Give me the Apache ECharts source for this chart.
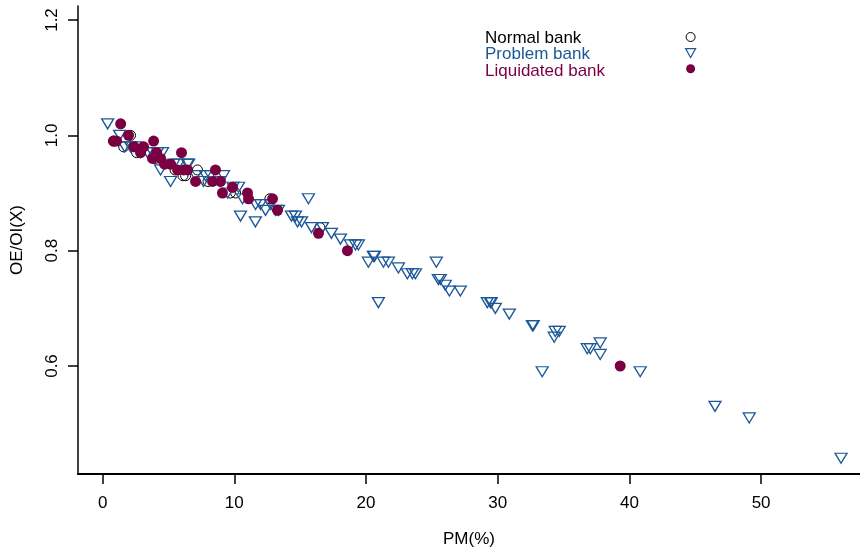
<!DOCTYPE html>
<html lang="en">
<head>
  <meta charset="UTF-8">
  <title>OE/OI vs PM</title>
  <script src="https://cdn.jsdelivr.net/npm/echarts@6/dist/echarts.min.js"></script>
  <style>
    html, body { margin: 0; padding: 0; background: #fff; }
  </style>
</head>
<body>
<div id="chart" style="width: 860px;height: 554px;"></div>

<script>
  // [PM(%), OE/OI(X)]
  const normalBank = [
    [0.83, 0.99], [1.6, 0.98], [2.12, 1.00], [2.58, 0.97], [4.0, 0.96], [5.5, 0.94],
    [6.1, 0.93], [6.3, 0.93], [7.2, 0.94], [8.0, 0.92], [9.7, 0.90], [10.1, 0.90],
    [12.7, 0.89], [16.5, 0.84]
  ];
  const problemBank = [
    [0.38, 1.02], [1.29, 1.00], [1.67, 0.98], [2.12, 0.98], [2.5, 0.98], [2.88, 0.97],
    [3.41, 0.97], [3.79, 0.97], [4.17, 0.97], [4.55, 0.97], [4.4, 0.94], [5.16, 0.92],
    [5.4, 0.95], [5.77, 0.95], [6.45, 0.95], [6.53, 0.95], [7.06, 0.93], [7.81, 0.93],
    [8.19, 0.93], [8.9, 0.92], [9.18, 0.93], [7.66, 0.92], [9.48, 0.90], [9.9, 0.91],
    [10.32, 0.91], [10.62, 0.89], [10.47, 0.86], [11.61, 0.88], [11.99, 0.88], [12.37, 0.87],
    [12.75, 0.88], [11.6, 0.85], [13.13, 0.87], [13.35, 0.87], [14.34, 0.86], [14.64, 0.86],
    [14.8, 0.85], [15.1, 0.85], [15.63, 0.89], [15.86, 0.84], [16.69, 0.84], [17.37, 0.83],
    [18.06, 0.82], [18.82, 0.81], [19.2, 0.81], [19.42, 0.81], [20.18, 0.78], [20.56, 0.79],
    [20.64, 0.79], [20.94, 0.71], [21.32, 0.78], [21.7, 0.78], [22.46, 0.77], [23.14, 0.76],
    [23.52, 0.76], [23.75, 0.76], [25.34, 0.78], [25.49, 0.75], [25.64, 0.75], [26.02, 0.74],
    [26.33, 0.73], [27.16, 0.73], [29.21, 0.71], [29.44, 0.71], [29.51, 0.71], [29.82, 0.70],
    [30.88, 0.69], [32.63, 0.67], [32.7, 0.67], [33.38, 0.59], [34.37, 0.66], [34.67, 0.66],
    [34.29, 0.65], [36.8, 0.63], [37.03, 0.63], [37.78, 0.64], [37.78, 0.62], [40.82, 0.59],
    [46.5, 0.53], [49.1, 0.51], [56.07, 0.44]
  ];
  const liquidatedBank = [
    [1.37, 1.02], [0.83, 0.99], [1.06, 0.99], [1.97, 1.00], [2.4, 0.98], [3.11, 0.98],
    [2.88, 0.97], [3.87, 0.99], [3.79, 0.96], [4.4, 0.96], [4.1, 0.97], [5.16, 0.95],
    [4.7, 0.95], [5.99, 0.97], [5.69, 0.94], [6.45, 0.94], [6.15, 0.94], [7.06, 0.92],
    [8.57, 0.94], [8.35, 0.92], [8.95, 0.92], [9.10, 0.90], [9.86, 0.91], [11.0, 0.90],
    [11.08, 0.89], [12.9, 0.89], [13.28, 0.87], [16.39, 0.83], [18.59, 0.80], [39.3, 0.60]
  ];
  const xTicks = [0, 10, 20, 30, 40, 50];
  const yTicks = [0.6, 0.8, 1.0, 1.2];
  const seriesNames = ['Normal bank', 'Problem bank', 'Liquidated bank'];

  const blue = '#1b5898';
  const maroon = '#7a0042';
  const font = 'Liberation Sans, Arial, sans-serif';
  const triDown = 'path://M0,0L10,0L5,9Z';

  let chart = echarts.init(document.getElementById('chart'));
  let option = {
    animation: false,
    textStyle: { fontFamily: font },
    grid: { left: 78, right: 0, top: 6, bottom: 80 },
    // legend draws only the symbols; names are written as text beside them
    legend: {
      orient: 'vertical',
      left: 685,
      top: 32,
      padding: 0,
      itemGap: 6,
      itemWidth: 10,
      itemHeight: 9,
      formatter: () => '',
      textStyle: { fontSize: 1, padding: 0 },
      data: [
        { name: seriesNames[0], icon: 'circle', itemStyle: { color: 'rgba(0,0,0,0)', borderColor: '#000', borderWidth: 1 } },
        { name: seriesNames[1], icon: triDown, itemStyle: { color: 'rgba(0,0,0,0)', borderColor: blue, borderWidth: 1.2 } },
        { name: seriesNames[2], icon: 'circle', itemStyle: { color: maroon } }
      ]
    },
    graphic: [
      { type: 'text', left: 485, top: 30, style: { text: seriesNames[0], fill: '#000', font: '17px ' + font } },
      { type: 'text', left: 485, top: 46, style: { text: seriesNames[1], fill: blue, font: '17px ' + font } },
      { type: 'text', left: 485, top: 63, style: { text: seriesNames[2], fill: maroon, font: '17px ' + font } }
    ],
    xAxis: {
      type: 'value',
      min: -1.87,
      max: 57.51,
      name: 'PM(%)',
      nameLocation: 'middle',
      nameGap: 57,
      nameTextStyle: { fontSize: 17, color: '#000' },
      splitLine: { show: false },
      axisLine: { onZero: false, lineStyle: { color: '#000', width: 2 } },
      axisTick: { length: 10, lineStyle: { color: '#000', width: 1.5 }, customValues: xTicks },
      axisLabel: { fontSize: 17, color: '#000', margin: 21, customValues: xTicks }
    },
    yAxis: {
      type: 'value',
      min: 0.4127,
      max: 1.2243,
      name: 'OE/OI(X)',
      nameLocation: 'middle',
      nameGap: 52,
      nameTextStyle: { fontSize: 17, color: '#000' },
      splitLine: { show: false },
      axisLine: { show: true, onZero: false, lineStyle: { color: '#000', width: 1.5 } },
      axisTick: { show: true, length: 10, lineStyle: { color: '#000', width: 1.5 }, customValues: yTicks },
      axisLabel: {
        fontSize: 17, color: '#000', margin: 17, rotate: 90, customValues: yTicks,
        formatter: v => v.toFixed(1)
      }
    },
    series: [
      {
        name: seriesNames[0],
        type: 'scatter',
        symbol: 'circle',
        symbolSize: 10,
        itemStyle: { color: 'rgba(0,0,0,0)', borderColor: '#000', borderWidth: 1, opacity: 1 },
        data: normalBank
      },
      {
        name: seriesNames[1],
        type: 'scatter',
        symbol: triDown,
        symbolSize: [12, 10],
        itemStyle: { color: 'rgba(0,0,0,0)', borderColor: blue, borderWidth: 1.3, opacity: 1 },
        data: problemBank
      },
      {
        name: seriesNames[2],
        type: 'scatter',
        symbol: 'circle',
        symbolSize: 11,
        itemStyle: { color: maroon, opacity: 1 },
        data: liquidatedBank
      }
    ]
  };
  chart.setOption(option);
</script>
</body>
</html>
